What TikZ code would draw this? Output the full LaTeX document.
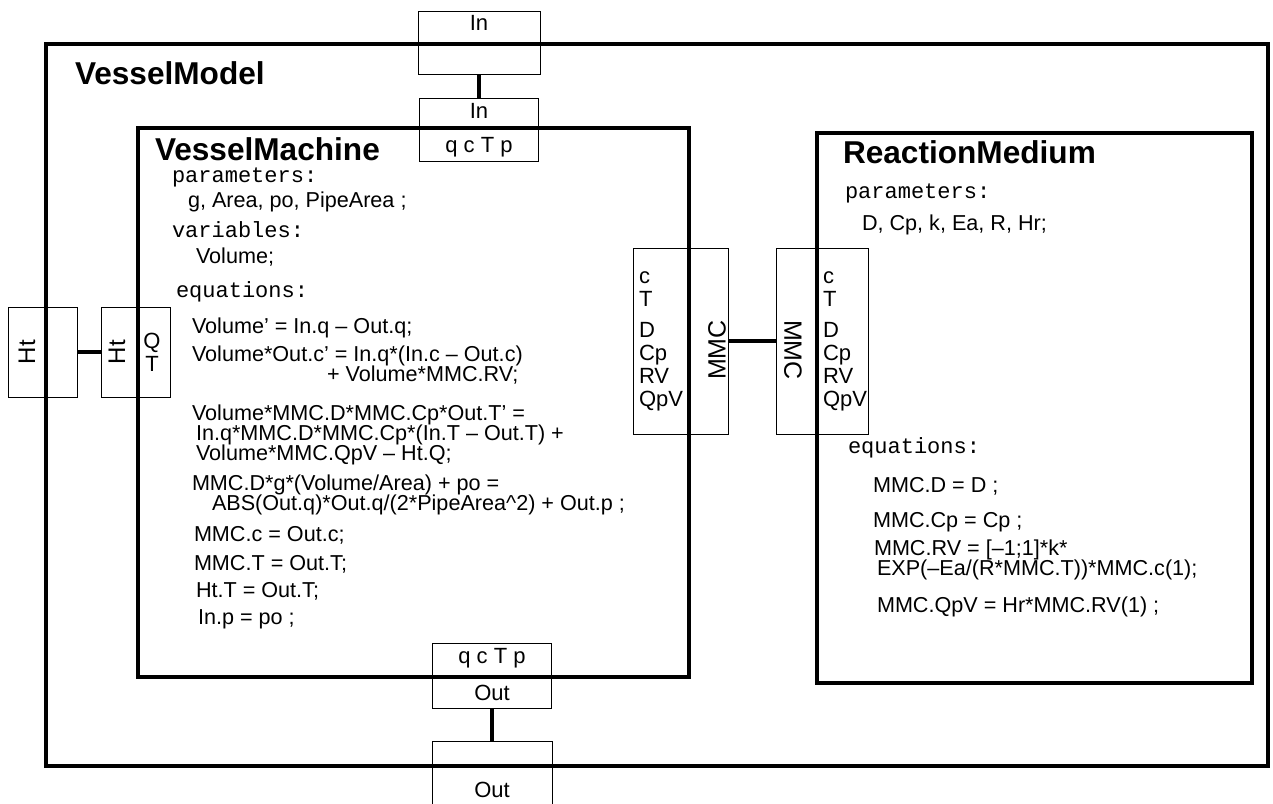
\documentclass[tikz,border=0pt]{standalone}
\usepackage{fontspec}
\setmainfont{Liberation Sans}
\setmonofont{Liberation Mono}
\begin{document}
\begin{tikzpicture}[x=0.5pt,y=-0.5pt,
  every node/.style={inner sep=0pt,outer sep=0pt},
  model/.style={line width=1.7pt},
  comp/.style={line width=2pt},
  portbox/.style={draw,line width=0.5pt},
  link/.style={line width=2.4pt},
  title/.style={font=\fontsize{15.8}{18}\selectfont\bfseries,anchor=base west},
  kw/.style={font=\fontsize{11}{12}\selectfont\ttfamily,anchor=base west},
  eq/.style={font=\fontsize{10.8}{12}\selectfont,anchor=base west},
  lab/.style={font=\fontsize{11}{11.5}\selectfont,align=center}]
\useasboundingbox (0,0) rectangle (1273,803);
% component borders
\draw[model] (46,44) rectangle (1268,766);
\draw[comp] (138,128) rectangle (689,677);
\draw[comp] (817,133) rectangle (1252,683);
% ports
\node[portbox,minimum width=61pt,minimum height=31.5pt] (inTop) at (479,42.5) {};
\node[portbox,minimum width=59.5pt,minimum height=31.5pt] (inMach) at (479,129.5) {};
\node[portbox,minimum width=59.5pt,minimum height=32.5pt] (outMach) at (492,675.5) {};
\node[portbox,minimum width=60pt,minimum height=50pt] (outBot) at (492,791) {};
\node[portbox,minimum width=34.5pt,minimum height=45pt] (htModel) at (42.5,352) {};
\node[portbox,minimum width=34.5pt,minimum height=45pt] (htMach) at (135.5,352) {};
\node[portbox,minimum width=47.5pt,minimum height=93pt] (mmcMach) at (680.5,341) {};
\node[portbox,minimum width=46pt,minimum height=93pt] (mmcMed) at (822,341) {};
% connections
\draw[link] (inTop.south) -- (inMach.north);
\draw[link] (outMach.south) -- (outBot.north);
\draw[link] (htModel.east) -- (htMach.west);
\draw[link,line width=1.8pt] (mmcMach.east) -- (mmcMed.west);
% port labels
\node[lab] (inTopLab) at (479,23) {In};
\node[lab] (inMachLab) at (479,111) {In};
\node[lab] (inMachVars) at (479,147) {q c T p};
\node[lab] (outMachVars) at (492,658) {q c T p};
\node[lab] (outMachLab) at (492,693) {Out};
\node[lab] (outBotLab) at (492,790) {Out};
\node[lab,rotate=90,font=\fontsize{12}{12}\selectfont] (htModelLab) at (27,352) {Ht};
\node[lab,rotate=90,font=\fontsize{12}{12}\selectfont] (htMachLab) at (117,352) {Ht};
\node[lab] (htMachVars) at (152,352) {Q\\T};
\node[lab,rotate=90,font=\fontsize{12.5}{12}\selectfont] (mmcMachLab) at (717,350) {MMC};
\node[lab,rotate=-90,font=\fontsize{12.5}{12}\selectfont] (mmcMedLab) at (793,350) {MMC};
\node[lab,align=left,anchor=north west] (mmcMachVars) at (639,272) {c\\T\\[4pt]D\\Cp\\RV\\QpV};
\node[lab,align=left,anchor=north west] (mmcMedVars) at (823,272) {c\\T\\[4pt]D\\Cp\\RV\\QpV};
% VesselModel
\node[title] (modelName) at (75,84) {VesselModel};
% VesselMachine
\node[title] (machName) at (155,160) {VesselMachine};
\node[kw] (machPar) at (172,182) {parameters:};
\node[eq] (machParList) at (188,207) {g, Area, po, PipeArea ;};
\node[kw] (machVar) at (172,237) {variables:};
\node[eq] (machVarList) at (196,263) {Volume;};
\node[kw] (machEqs) at (176,297) {equations:};
\node[eq] (eqA) at (192,333) {Volume' = In.q -- Out.q;};
\node[eq] (eqBa) at (192,361) {Volume*Out.c' = In.q*(In.c -- Out.c)};
\node[eq] (eqBb) at (327,381) {+ Volume*MMC.RV;};
\node[eq] (eqCa) at (192,420) {Volume*MMC.D*MMC.Cp*Out.T' =};
\node[eq] (eqCb) at (196,440) {In.q*MMC.D*MMC.Cp*(In.T -- Out.T) +};
\node[eq] (eqCc) at (196,460) {Volume*MMC.QpV -- Ht.Q;};
\node[eq] (eqDa) at (192,490) {MMC.D*g*(Volume/Area) + po =};
\node[eq] (eqDb) at (212,510) {ABS(Out.q)*Out.q/(2*PipeArea\textasciicircum 2) + Out.p ;};
\node[eq] (eqE) at (194,541) {MMC.c = Out.c;};
\node[eq] (eqF) at (194,570) {MMC.T = Out.T;};
\node[eq] (eqG) at (196,597) {Ht.T = Out.T;};
\node[eq] (eqH) at (198,624) {In.p = po ;};
% ReactionMedium
\node[title] (medName) at (843,163) {ReactionMedium};
\node[kw] (medPar) at (845,198) {parameters:};
\node[eq] (medParList) at (862,230) {D, Cp, k, Ea, R, Hr;};
\node[kw] (medEqs) at (848,453) {equations:};
\node[eq] (rmA) at (873,492) {MMC.D = D ;};
\node[eq] (rmB) at (873,527) {MMC.Cp = Cp ;};
\node[eq] (rmCa) at (874,555) {MMC.RV = [--1;1]*k*};
\node[eq] (rmCb) at (877,575) {EXP(--Ea/(R*MMC.T))*MMC.c(1);};
\node[eq] (rmD) at (877,612) {MMC.QpV = Hr*MMC.RV(1) ;};
\end{tikzpicture}
\end{document}
